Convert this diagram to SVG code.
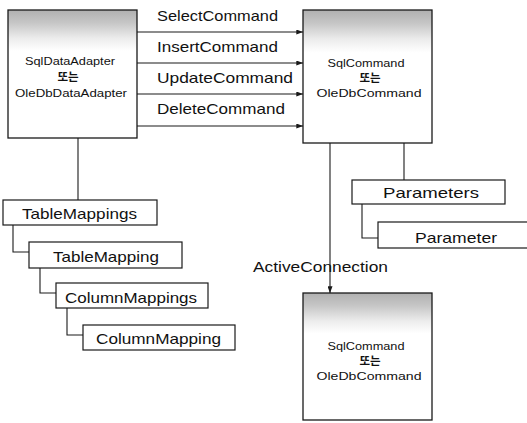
<svg xmlns="http://www.w3.org/2000/svg" width="527" height="423" viewBox="0 0 527 423">
  <style>
    .bg { fill: #ffffff; }
    .obj { stroke: #1a1a1a; stroke-width: 1.3; }
    .box { fill: #ffffff; stroke: #1a1a1a; stroke-width: 1.2; }
    .wire { fill: none; stroke: #1a1a1a; stroke-width: 1.1; }
    .lbl { font-family: "Liberation Sans", Arial, "Noto Sans CJK KR", sans-serif; font-size: 15px; fill: #111111; }
    .small { font-family: "Liberation Sans", Arial, "Noto Sans CJK KR", sans-serif; font-size: 11.5px; fill: #111111; text-anchor: middle; }
    .kr { font-family: "Noto Sans CJK KR", sans-serif; font-size: 11.5px; font-weight: bold; fill: #111111; text-anchor: middle; }
  </style>
  <defs>
    <linearGradient id="shade" x1="0" y1="0" x2="0" y2="1">
      <stop offset="0" stop-color="#b0b0b0"/>
      <stop offset="0.1" stop-color="#c6c6c6"/>
      <stop offset="0.22" stop-color="#ececec"/>
      <stop offset="0.32" stop-color="#ffffff"/>
      <stop offset="1" stop-color="#ffffff"/>
    </linearGradient>
    <marker id="tip" viewBox="0 0 8 6" refX="8" refY="3" markerWidth="7" markerHeight="5" markerUnits="userSpaceOnUse" orient="auto">
      <path d="M0,0 L8,3 L0,6 Z" fill="#1a1a1a"/>
    </marker>
  </defs>

  <rect class="bg" x="0" y="0" width="527" height="423"/>

  <!-- links between objects -->
  <g id="connectors">
    <path class="wire" d="M137,32 H303" marker-end="url(#tip)"/>
    <path class="wire" d="M137,63 H303" marker-end="url(#tip)"/>
    <path class="wire" d="M137,94 H303" marker-end="url(#tip)"/>
    <path class="wire" d="M137,126 H303" marker-end="url(#tip)"/>
    <path class="wire" d="M78,138 V200"/>
    <path class="wire" d="M13,225 V252 H29"/>
    <path class="wire" d="M40,268 V293 H56"/>
    <path class="wire" d="M67,308 V335 H83"/>
    <path class="wire" d="M404,143 V180"/>
    <path class="wire" d="M362,204 V238 H378"/>
    <text class="lbl" x="157" y="21" textLength="121" lengthAdjust="spacingAndGlyphs">SelectCommand</text>
    <text class="lbl" x="157" y="52" textLength="121" lengthAdjust="spacingAndGlyphs">InsertCommand</text>
    <text class="lbl" x="157" y="83" textLength="136" lengthAdjust="spacingAndGlyphs">UpdateCommand</text>
    <text class="lbl" x="157" y="114" textLength="128" lengthAdjust="spacingAndGlyphs">DeleteCommand</text>
    <text class="lbl" x="253" y="272" textLength="135" lengthAdjust="spacingAndGlyphs">ActiveConnection</text>
    <path class="wire" d="M330,143 V293" marker-end="url(#tip)"/>
  </g>

  <!-- data adapter -->
  <g id="adapter">
    <rect x="8" y="10" width="129" height="128" fill="url(#shade)" class="obj"/>
    <text class="small" x="70" y="65" textLength="90" lengthAdjust="spacingAndGlyphs">SqlDataAdapter</text>
    <text class="kr" x="68" y="81">또는</text>
    <text class="small" x="71" y="97" textLength="112" lengthAdjust="spacingAndGlyphs">OleDbDataAdapter</text>
  </g>

  <!-- command -->
  <g id="command">
    <rect x="303" y="10" width="129" height="133" fill="url(#shade)" class="obj"/>
    <text class="small" x="366" y="67" textLength="77" lengthAdjust="spacingAndGlyphs">SqlCommand</text>
    <text class="kr" x="370" y="82">또는</text>
    <text class="small" x="369" y="97" textLength="105" lengthAdjust="spacingAndGlyphs">OleDbCommand</text>
  </g>

  <!-- connection target -->
  <g id="connection">
    <rect x="303" y="293" width="129" height="127" fill="url(#shade)" class="obj"/>
    <text class="small" x="366" y="350" textLength="77" lengthAdjust="spacingAndGlyphs">SqlCommand</text>
    <text class="kr" x="370" y="365">또는</text>
    <text class="small" x="369" y="380" textLength="105" lengthAdjust="spacingAndGlyphs">OleDbCommand</text>
  </g>

  <!-- mapping collections -->
  <g id="tableMappings">
    <rect class="box" x="3" y="200" width="154" height="25"/>
    <text class="lbl" x="22" y="219" textLength="115" lengthAdjust="spacingAndGlyphs">TableMappings</text>
  </g>
  <g id="tableMapping">
    <rect class="box" x="29" y="242" width="153" height="26"/>
    <text class="lbl" x="53" y="262" textLength="106" lengthAdjust="spacingAndGlyphs">TableMapping</text>
  </g>
  <g id="columnMappings">
    <rect class="box" x="56" y="283" width="152" height="25"/>
    <text class="lbl" x="65" y="303" textLength="132" lengthAdjust="spacingAndGlyphs">ColumnMappings</text>
  </g>
  <g id="columnMapping">
    <rect class="box" x="83" y="325" width="152" height="25"/>
    <text class="lbl" x="96" y="344" textLength="125" lengthAdjust="spacingAndGlyphs">ColumnMapping</text>
  </g>

  <!-- parameter collections -->
  <g id="parameters">
    <rect class="box" x="352" y="180" width="153" height="24"/>
    <text class="lbl" x="383" y="198" textLength="96" lengthAdjust="spacingAndGlyphs">Parameters</text>
  </g>
  <g id="parameter">
    <rect class="box" x="378" y="222" width="160" height="26"/>
    <text class="lbl" x="415" y="243" textLength="82" lengthAdjust="spacingAndGlyphs">Parameter</text>
  </g>
</svg>
